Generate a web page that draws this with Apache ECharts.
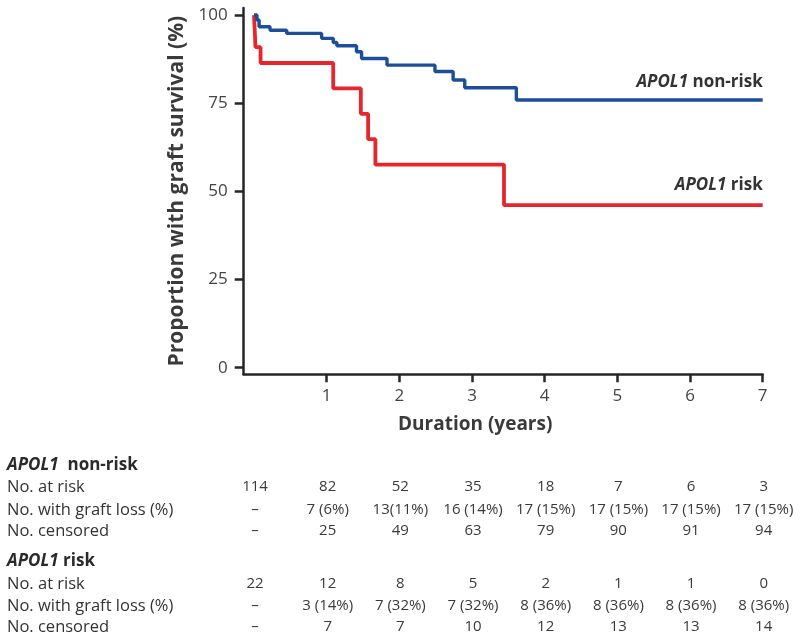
<!DOCTYPE html>
<html><head><meta charset="utf-8">
<script src="https://cdn.jsdelivr.net/npm/echarts@6/dist/echarts.min.js"></script>
<style>html,body{margin:0;padding:0;background:#fff}#c{width:800px;height:639px}</style>
</head><body><div id="c"></div>
<script>
// ---- data ----
const xTicks = [1, 2, 3, 4, 5, 6, 7];
const yTicks = [0, 25, 50, 75, 100];
const tableYears = [0, 1, 2, 3, 4, 5, 6, 7];

const nonRiskTime = [0, 0.04, 0.07, 0.22, 0.45, 0.93, 1.09, 1.14, 1.41, 1.48, 1.83, 2.49, 2.74, 2.90, 3.61, 7];
const nonRiskSurv = [100, 98.6, 96.7, 95.7, 94.8, 93.4, 92.2, 91.3, 89.6, 87.7, 85.8, 84.0, 81.6, 79.4, 75.9, 75.9];

const riskTime = [0, 0.02, 0.09, 1.09, 1.47, 1.57, 1.67, 3.44, 7];
const riskSurv = [100, 90.9, 86.4, 79.2, 72.0, 64.8, 57.6, 46.1, 46.1];

const nonRiskAtRisk = ['114', '82', '52', '35', '18', '7', '6', '3'];
const nonRiskLoss = ['–', '7 (6%)', '13(11%)', '16 (14%)', '17 (15%)', '17 (15%)', '17 (15%)', '17 (15%)'];
const nonRiskCensored = ['–', '25', '49', '63', '79', '90', '91', '94'];
const riskAtRisk = ['22', '12', '8', '5', '2', '1', '1', '0'];
const riskLoss = ['–', '3 (14%)', '7 (32%)', '7 (32%)', '8 (36%)', '8 (36%)', '8 (36%)', '8 (36%)'];
const riskCensored = ['–', '7', '7', '10', '12', '13', '13', '14'];

const rowLabels = ['No. at risk', 'No. with graft loss (%)', 'No. censored'];

// ---- chart ----
const FONT = '"Open Sans", "Liberation Sans", sans-serif';
const AXIS = '#262626';
const TXT = '#444444';
const BLUE = '#1c4e9c';
const RED = '#e5262c';

const chart = echarts.init(document.getElementById('c'));
chart.setOption({
  animation: false,
  backgroundColor: '#ffffff',
  grid: { left: 243.7, right: 37.3, top: 8, bottom: 264.7, containLabel: false },
  xAxis: {
    type: 'value', min: -0.142, max: 7,
    name: 'Duration (years)', nameLocation: 'middle', nameGap: 41,
    nameTextStyle: { fontFamily: FONT, fontSize: 19, fontWeight: 'bold', color: '#3a3a3a', padding: [0, 56, 0, 0] },
    axisLine: { show: true, onZero: false, lineStyle: { color: AXIS, width: 2.5 } },
    axisTick: { show: true, length: 8, lineStyle: { color: AXIS, width: 2.5 }, customValues: xTicks },
    axisLabel: { show: true, margin: 13, fontFamily: FONT, fontSize: 17, color: TXT, customValues: xTicks },
    splitLine: { show: false }
  },
  yAxis: {
    type: 'value', min: -1.87, max: 102,
    name: 'Proportion with graft survival (%)', nameLocation: 'middle', nameGap: 48,
    nameTextStyle: { fontFamily: FONT, fontSize: 21, fontWeight: 'bold', color: '#3a3a3a' },
    axisLine: { show: true, onZero: false, lineStyle: { color: AXIS, width: 2.5 } },
    axisTick: { show: true, length: 9, lineStyle: { color: AXIS, width: 2.5 }, customValues: yTicks },
    axisLabel: { show: true, margin: 16, fontFamily: FONT, fontSize: 17, color: TXT, customValues: yTicks },
    splitLine: { show: false }
  },
  series: [
    {
      name: 'APOL1 risk', type: 'line', step: 'end', symbol: 'none',
      data: riskTime.map((t, i) => [t, riskSurv[i]]),
      lineStyle: { color: RED, width: 3.8 }, z: 2
    },
    {
      name: 'APOL1 non-risk', type: 'line', step: 'end', symbol: 'none',
      data: nonRiskTime.map((t, i) => [t, nonRiskSurv[i]]),
      lineStyle: { color: BLUE, width: 3.4 }, z: 3
    }
  ]
});

// ---- annotations & risk table ----
const px = v => chart.convertToPixel({ xAxisIndex: 0 }, v);
const py = v => chart.convertToPixel({ yAxisIndex: 0 }, v);
const g = [];

function richLabel(x, y, rest, size, align, color) {
  return {
    type: 'text', x: x, y: y, silent: true,
    style: {
      text: '{i|APOL1}{b|' + rest + '}',
      align: align, verticalAlign: 'middle',
      rich: {
        i: { fontFamily: FONT, fontSize: size, fontWeight: 'bold', fontStyle: 'italic', fill: color, color: color },
        b: { fontFamily: FONT, fontSize: size, fontWeight: 'bold', fill: color, color: color }
      }
    }
  };
}

// curve labels
g.push(richLabel(px(7), py(nonRiskSurv[nonRiskSurv.length - 1]) - 18, ' non-risk', 17, 'right', '#333333'));
g.push(richLabel(px(7), py(riskSurv[riskSurv.length - 1]) - 20, ' risk', 17, 'right', '#333333'));

// table
const sections = [
  { head: '  non-risk', headY: 465, rowsY: [487, 510, 531], rows: [nonRiskAtRisk, nonRiskLoss, nonRiskCensored] },
  { head: ' risk', headY: 561, rowsY: [584, 606, 627], rows: [riskAtRisk, riskLoss, riskCensored] }
];
sections.forEach(sec => {
  g.push(richLabel(7, sec.headY, sec.head, 17, 'left', '#2a2a2a'));
  sec.rows.forEach((vals, r) => {
    g.push({ type: 'text', x: 7, y: sec.rowsY[r], silent: true,
      style: { text: rowLabels[r], font: '16.5px ' + FONT, fill: '#333333', align: 'left', verticalAlign: 'middle' } });
    vals.forEach((v, c) => {
      g.push({ type: 'text', x: px(tableYears[c]) + 1, y: sec.rowsY[r], silent: true,
        style: { text: v, font: '15px ' + FONT, fill: '#3a3a3a', align: 'center', verticalAlign: 'middle' } });
    });
  });
});
chart.setOption({ graphic: g });
</script>
</body></html>
